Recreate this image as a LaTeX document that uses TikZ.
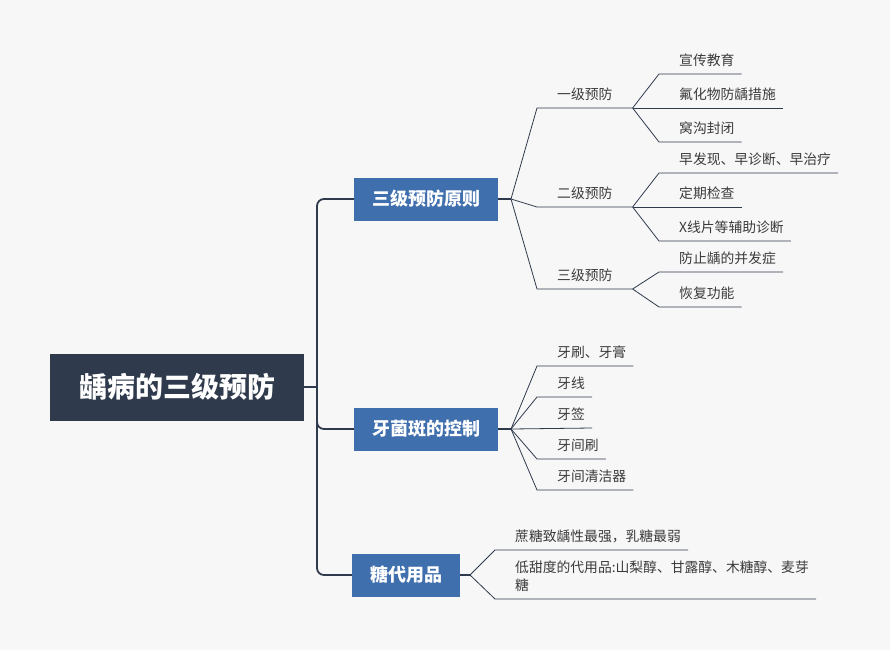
\documentclass[tikz,border=0pt]{standalone}
\usepackage{fontspec}
\setmainfont{Noto Sans CJK SC}
\usetikzlibrary{positioning}

\definecolor{bgcol}{HTML}{F7F7F7}
\definecolor{rootcol}{HTML}{2F3B4C}
\definecolor{boxcol}{HTML}{3F6FAD}
\definecolor{linecol}{HTML}{2F3B4C}
\definecolor{txtcol}{HTML}{3B3B3B}

\tikzset{
  rootbox/.style={fill=rootcol, text=white, font=\fontsize{28}{34}\selectfont\bfseries,
    minimum width=254, minimum height=67, inner sep=0},
  mainbox/.style={fill=boxcol, text=white, font=\fontsize{18}{22}\selectfont\bfseries,
    minimum height=43, inner xsep=18, inner ysep=0},
  subitem/.style={anchor=south west, text=txtcol, font=\fontsize{13.8}{18}\selectfont,
    text height=11, text depth=2, inner xsep=20, inner ysep=6.5},
  leafitem/.style={anchor=south west, text=txtcol, font=\fontsize{13.8}{18}\selectfont,
    text height=11, text depth=2, inner xsep=7, inner ysep=6.5, align=left,
    execute at begin node={\hspace*{13pt}}},
  trunk/.style={draw=linecol, line width=1.8pt, rounded corners=7},
  twig/.style={draw=linecol, line width=0.8pt},
}

\begin{document}
\begin{tikzpicture}[x=1pt, y=-1pt]
    % Background
    \fill[bgcol] (0,0) rectangle (890,650);

    % Root and the three main topics
    \node[rootbox] (root) at (177,387) {龋病的三级预防};
    \node[mainbox, minimum width=144] (sanji) at (426,199) {三级预防原则};
    \node[mainbox, minimum width=144] (junban) at (426,429) {牙菌斑的控制};
    \node[mainbox, minimum width=103] (tangdai) at (406,575) {糖代用品};

    % Trunk from the root to the topics
    \coordinate (trk) at (317,387);
    \draw[trunk] (root.east) -- (trk);
    \draw[trunk] (sanji.west) -| (trk) |- (junban.west);
    \draw[trunk] (trk) |- (tangdai.west);

    % Junctions right of each topic
    \coordinate (jsanji) at (511,199);
    \coordinate (jjunban) at (511,429);
    \coordinate (jtangdai) at (470,575);
    \draw[trunk] (sanji.east) -- (jsanji);
    \draw[trunk] (junban.east) -- (jjunban);
    \draw[trunk] (tangdai.east) -- (jtangdai);

    % Three levels of prevention
    \node[subitem] (yiji) at (537,108) {一级预防};
    \node[subitem] (erji) at (537,207) {二级预防};
    \node[subitem] (sanjiyf) at (537,289) {三级预防};
    \foreach \s in {yiji,erji,sanjiyf}
      \draw[twig] (jsanji) -- (\s.south west) -- (\s.south east);

    % Primary prevention
    \node[leafitem] (xuanchuan) at (659,74) {宣传教育};
    \node[leafitem] (fuhuawu) at (633,108) {\hspace*{26pt}氟化物防龋措施};
    \node[leafitem] (wogou) at (659,142) {窝沟封闭};
    \draw[twig] (yiji.south east) -- (xuanchuan.south west) -- (xuanchuan.south east);
    \draw[twig] (yiji.south east) -- (fuhuawu.south east);
    \draw[twig] (yiji.south east) -- (wogou.south west) -- (wogou.south east);

    % Secondary prevention
    \node[leafitem] (zaofa) at (659,173) {早发现、早诊断、早治疗};
    \node[leafitem] (dingqi) at (633,207) {\hspace*{26pt}定期检查};
    \node[leafitem] (xxian) at (659,241) {X线片等辅助诊断};
    \draw[twig] (erji.south east) -- (zaofa.south west) -- (zaofa.south east);
    \draw[twig] (erji.south east) -- (dingqi.south east);
    \draw[twig] (erji.south east) -- (xxian.south west) -- (xxian.south east);

    % Tertiary prevention
    \node[leafitem] (bingfa) at (659,272) {防止龋的并发症};
    \node[leafitem] (huifu) at (659,307) {恢复功能};
    \draw[twig] (sanjiyf.south east) -- (bingfa.south west) -- (bingfa.south east);
    \draw[twig] (sanjiyf.south east) -- (huifu.south west) -- (huifu.south east);

    % Plaque control
    \node[leafitem] (yashua) at (537,366) {牙刷、牙膏};
    \node[leafitem] (yaxian) at (537,397) {牙线};
    \node[leafitem] (yaqian) at (511,428) {\hspace*{26pt}牙签};
    \node[leafitem] (jianshua) at (537,459) {牙间刷};
    \node[leafitem] (qingjie) at (537,490) {牙间清洁器};
    \foreach \s in {yashua,yaxian,jianshua,qingjie}
      \draw[twig] (jjunban) -- (\s.south west) -- (\s.south east);
    \draw[twig] (jjunban) -- (yaqian.south east);

    % Sugar substitutes
    \node[leafitem] (zhetang) at (495,550) {蔗糖致龋性最强，乳糖最弱};
    \node[leafitem] (ditian) at (495,599) {低甜度的代用品:山梨醇、甘露醇、木糖醇、麦芽\\糖};
    \draw[twig] (jtangdai) -- (zhetang.south west) -- (zhetang.south east);
    \draw[twig] (jtangdai) -- (ditian.south west) -- (ditian.south east);
\end{tikzpicture}
\end{document}
